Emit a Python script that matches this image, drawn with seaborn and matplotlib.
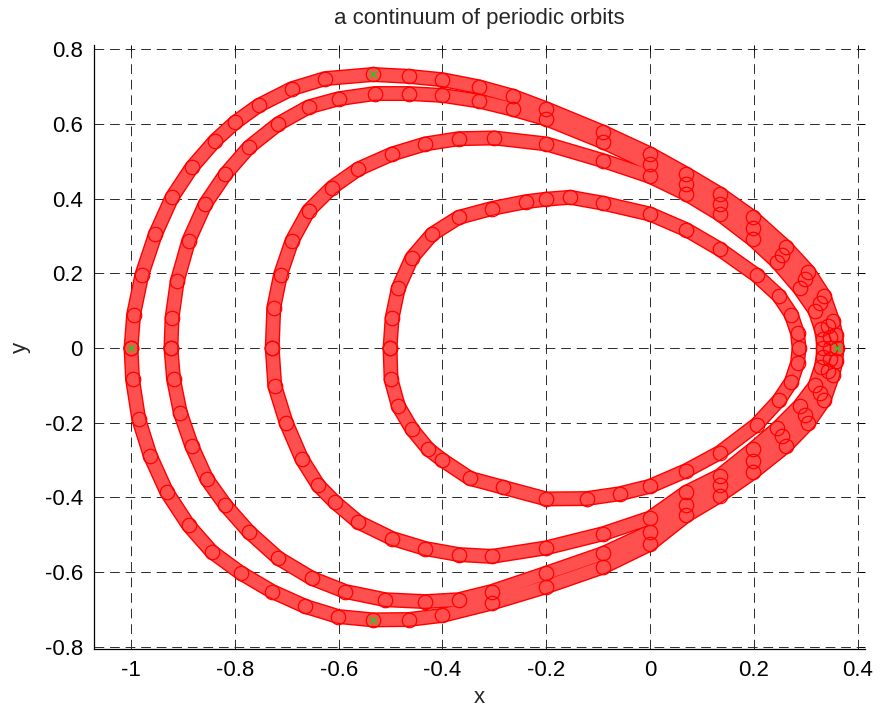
import numpy as np
import pandas as pd
import matplotlib
matplotlib.use("Agg")
import matplotlib.pyplot as plt
import seaborn as sns

# ---- data (closed orbits: left -> top -> right -> bottom -> left)
orbit_a_x = [-1.000, -0.995, -0.979, -0.953, -0.921, -0.883, -0.838, -0.799, -0.754, -0.690,
             -0.626, -0.534, -0.465, -0.400, -0.330, -0.265, -0.200, -0.090, 0.000, 0.070,
             0.134, 0.198, 0.262, 0.305, 0.335, 0.352, 0.358, 0.360,
             0.358, 0.352, 0.335, 0.305, 0.262, 0.198, 0.134, 0.070, 0.000, -0.090, -0.200,
             -0.305, -0.400, -0.465, -0.534, -0.601, -0.664, -0.728, -0.789, -0.844, -0.889,
             -0.931, -0.963, -0.985, -0.997, -1.000]
orbit_a_y = [0.000, 0.090, 0.197, 0.305, 0.404, 0.484, 0.556, 0.605, 0.650, 0.695,
             0.722, 0.733, 0.728, 0.719, 0.700, 0.675, 0.641, 0.578, 0.520, 0.466,
             0.413, 0.350, 0.270, 0.205, 0.140, 0.072, 0.035, 0.000,
             -0.035, -0.072, -0.140, -0.200, -0.262, -0.333, -0.395, -0.448, -0.525, -0.586, -0.639,
             -0.683, -0.716, -0.727, -0.728, -0.719, -0.692, -0.652, -0.602, -0.546, -0.475,
             -0.386, -0.288, -0.191, -0.084, 0.000]

orbit_b_x = [-0.923, -0.921, -0.911, -0.889, -0.857, -0.818, -0.773, -0.716, -0.658, -0.600,
             -0.530, -0.465, -0.400, -0.330, -0.265, -0.200, -0.090, 0.000, 0.070, 0.134,
             0.198, 0.255, 0.298, 0.327, 0.342, 0.346, 0.347,
             0.346, 0.342, 0.327, 0.298, 0.255, 0.198, 0.134, 0.070, 0.000, -0.090, -0.200,
             -0.305, -0.369, -0.433, -0.510, -0.587, -0.651, -0.716, -0.773, -0.818, -0.854,
             -0.883, -0.905, -0.918, -0.923]
orbit_b_y = [0.000, 0.081, 0.179, 0.287, 0.386, 0.466, 0.538, 0.601, 0.646, 0.668,
             0.682, 0.682, 0.677, 0.662, 0.640, 0.614, 0.552, 0.493, 0.440, 0.386,
             0.323, 0.250, 0.185, 0.120, 0.060, 0.030, 0.000,
             -0.030, -0.060, -0.120, -0.180, -0.235, -0.302, -0.368, -0.421, -0.492, -0.550, -0.603,
             -0.652, -0.674, -0.679, -0.674, -0.652, -0.617, -0.563, -0.492, -0.421, -0.351,
             -0.262, -0.173, -0.084, 0.000]

orbit_c_x = [-0.728, -0.725, -0.712, -0.690, -0.658, -0.613, -0.562, -0.497, -0.433, -0.369,
             -0.300, -0.200, -0.090, 0.000, 0.070, 0.134, 0.198, 0.245, 0.288, 0.318,
             0.330, 0.333, 0.334,
             0.333, 0.330, 0.318, 0.288, 0.245, 0.198, 0.134, 0.070, 0.000, -0.090, -0.200,
             -0.305, -0.369, -0.433, -0.497, -0.562, -0.607, -0.639, -0.671, -0.701, -0.723,
             -0.728]
orbit_c_y = [0.000, 0.108, 0.197, 0.287, 0.368, 0.430, 0.480, 0.520, 0.547, 0.561,
             0.563, 0.547, 0.502, 0.460, 0.413, 0.359, 0.291, 0.230, 0.160, 0.100,
             0.050, 0.025, 0.000,
             -0.025, -0.050, -0.100, -0.155, -0.215, -0.271, -0.342, -0.386, -0.455, -0.497, -0.535,
             -0.558, -0.553, -0.537, -0.510, -0.466, -0.413, -0.368, -0.297, -0.200, -0.102,
             0.000]

orbit_d_x = [-0.501, -0.497, -0.485, -0.459, -0.420, -0.369, -0.305, -0.240, -0.200, -0.154,
             -0.090, 0.000, 0.070, 0.134, 0.205, 0.248, 0.272, 0.284, 0.287,
             0.284, 0.272, 0.248, 0.205, 0.134, 0.070, 0.000, -0.058, -0.122, -0.200, -0.283,
             -0.347, -0.400, -0.427, -0.459, -0.485, -0.499, -0.501]
orbit_d_y = [0.000, 0.081, 0.161, 0.242, 0.305, 0.350, 0.374, 0.392, 0.399, 0.404,
             0.388, 0.359, 0.317, 0.265, 0.195, 0.140, 0.090, 0.040, 0.000,
             -0.040, -0.090, -0.140, -0.205, -0.280, -0.328, -0.370, -0.390, -0.403, -0.404, -0.373,
             -0.349, -0.300, -0.271, -0.217, -0.155, -0.084, 0.000]

start_x = [-1.000, 0.360, -0.534, -0.534]
start_y = [0.000, 0.000, 0.733, -0.728]

x_ticks = [-1, -0.8, -0.6, -0.4, -0.2, 0, 0.2, 0.4]
x_tick_labels = ["-1", "-0.8", "-0.6", "-0.4", "-0.2", "0", "0.2", "0.4"]
y_ticks = [-0.8, -0.6, -0.4, -0.2, 0, 0.2, 0.4, 0.6, 0.8]
y_tick_labels = ["-0.8", "-0.6", "-0.4", "-0.2", "0", "0.2", "0.4", "0.6", "0.8"]

orbits = [(orbit_a_x, orbit_a_y), (orbit_b_x, orbit_b_y),
          (orbit_c_x, orbit_c_y), (orbit_d_x, orbit_d_y)]

# ---- style
sns.set_style("white")
plt.rcParams["font.family"] = ["Liberation Sans", "DejaVu Sans"]

fig = plt.figure(figsize=(8.81, 7.11), dpi=100)
ax = fig.add_axes([94 / 881, 1 - 649 / 711, 771 / 881, 604 / 711])

# outer red rim of each band (drawn first so overlapping bands merge)
for xs, ys in orbits:
    sns.lineplot(x=xs, y=ys, sort=False, estimator=None, ax=ax,
                 color="#ff0000", lw=10.8, solid_joinstyle="round",
                 solid_capstyle="round", zorder=3)
# lighter interior of the band of overlapping circles
for xs, ys in orbits:
    sns.lineplot(x=xs, y=ys, sort=False, estimator=None, ax=ax,
                 color="#ff5050", lw=8.8, solid_joinstyle="round",
                 solid_capstyle="round", zorder=3.5)
# open circle markers
for xs, ys in orbits:
    sns.lineplot(x=xs, y=ys, sort=False, estimator=None, ax=ax,
                 linestyle="none", marker="o", mfc="none", mec="#ff0000",
                 ms=10.4, mew=0.9, zorder=4)

ax.plot(start_x, start_y, linestyle="none", marker="x", color="#22cc22",
        ms=6, mew=1.0, zorder=5)

ax.set_xlim(-1.0713, 0.414)
ax.set_ylim(-0.806, 0.812)
ax.set_xticks(x_ticks)
ax.set_xticklabels(x_tick_labels)
ax.set_yticks(y_ticks)
ax.set_yticklabels(y_tick_labels)

ax.set_axisbelow(True)
ax.grid(True, color="#2a2a2a", linestyle=(0, (10, 6)), linewidth=0.7)
for side in ["top", "right"]:
    ax.spines[side].set_visible(False)
for side in ["left", "bottom"]:
    ax.spines[side].set_color("black")
    ax.spines[side].set_linewidth(0.9)

ax.tick_params(axis="both", which="both", direction="in", length=4, width=0.7,
               labelsize=16, top=True, right=True, pad=8, colors="black")

ax.set_xlabel("x", fontsize=16, labelpad=4)
ax.set_ylabel("y", fontsize=16, labelpad=10)
ax.set_title("a continuum of periodic orbits", fontsize=16, pad=15)

fig.savefig("out.png", dpi=100)
